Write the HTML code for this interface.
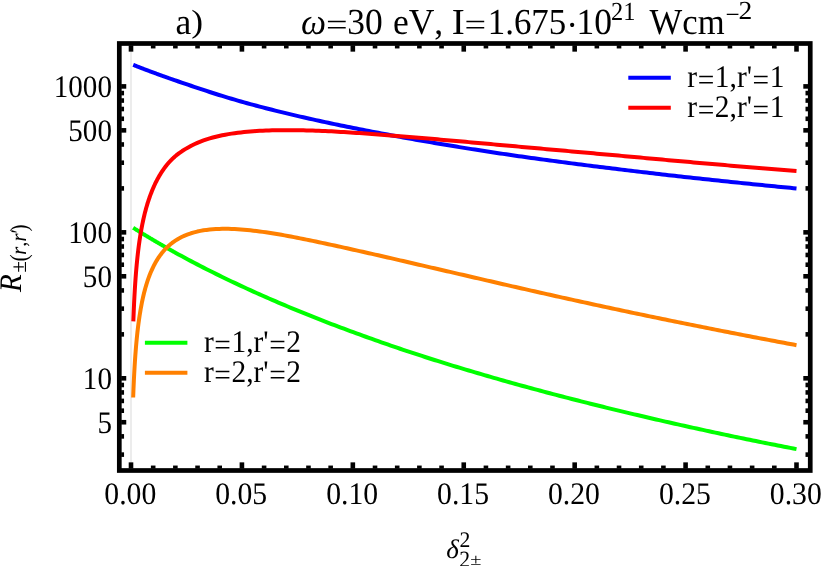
<!DOCTYPE html>
<html><head><meta charset="utf-8"><title>plot</title>
<style>
html,body{margin:0;padding:0;background:#fff;}
body{width:822px;height:566px;overflow:hidden;font-family:"Liberation Serif",serif;}
svg{display:block;will-change:transform;}
text{font-family:"Liberation Serif",serif;fill:#000;text-rendering:geometricPrecision;font-kerning:none;}
.i{font-style:italic;}
</style></head><body>
<svg width="822" height="566" viewBox="0 0 822 566">
<rect x="0" y="0" width="822" height="566" fill="#fff"/>
<line x1="131" y1="45.9" x2="131" y2="468.1" stroke="#e8e8e8" stroke-width="1.6"/>
<g fill="none" stroke-width="4.0" stroke-linejoin="round">
<path stroke="#00ff00" d="M133.17 227.76 L133.52 227.99 L133.88 228.21 L134.23 228.43 L134.59 228.66 L134.94 228.88 L135.30 229.10 L135.65 229.32 L136.01 229.54 L136.36 229.76 L136.72 229.99 L137.07 230.21 L137.42 230.43 L137.78 230.65 L138.13 230.87 L138.49 231.09 L138.84 231.31 L139.20 231.53 L139.55 231.75 L139.91 231.96 L140.26 232.18 L140.62 232.40 L140.97 232.62 L141.33 232.84 L141.68 233.06 L142.03 233.27 L142.39 233.49 L142.74 233.71 L143.10 233.92 L143.45 234.14 L143.81 234.36 L144.16 234.57 L144.52 234.79 L144.87 235.00 L145.23 235.22 L145.58 235.43 L145.94 235.65 L146.29 235.86 L146.64 236.08 L147.00 236.29 L147.35 236.50 L147.71 236.72 L148.06 236.93 L148.42 237.14 L148.77 237.36 L149.13 237.57 L149.48 237.78 L149.84 237.99 L150.19 238.20 L150.54 238.42 L150.90 238.63 L151.25 238.84 L151.61 239.05 L151.96 239.26 L152.32 239.47 L152.67 239.68 L153.03 239.89 L153.38 240.10 L153.74 240.31 L154.09 240.52 L154.45 240.73 L154.80 240.94 L155.15 241.14 L155.51 241.35 L155.86 241.56 L156.22 241.77 L156.57 241.98 L156.93 242.18 L157.28 242.39 L157.64 242.60 L157.99 242.80 L158.35 243.01 L158.70 243.22 L159.06 243.42 L159.41 243.63 L159.76 243.84 L160.12 244.04 L160.47 244.25 L160.83 244.45 L161.18 244.66 L161.54 244.86 L161.89 245.06 L162.25 245.27 L162.60 245.47 L162.96 245.68 L163.31 245.88 L163.66 246.08 L164.02 246.28 L164.37 246.49 L164.73 246.69 L165.08 246.89 L165.44 247.09 L165.79 247.30 L166.15 247.50 L166.50 247.70 L166.86 247.90 L167.21 248.10 L167.57 248.30 L167.92 248.50 L168.27 248.70 L168.63 248.90 L168.98 249.10 L169.34 249.30 L169.69 249.50 L170.05 249.70 L170.40 249.90 L170.76 250.10 L171.11 250.30 L171.47 250.50 L171.82 250.70 L172.18 250.89 L172.53 251.09 L172.88 251.29 L173.24 251.49 L173.59 251.68 L173.95 251.88 L174.30 252.08 L174.66 252.27 L175.01 252.47 L175.37 252.67 L178.49 254.39 L181.61 256.09 L184.73 257.78 L187.85 259.45 L190.97 261.11 L194.09 262.75 L197.22 264.38 L200.34 266.00 L203.46 267.60 L206.58 269.19 L209.70 270.76 L212.82 272.33 L215.94 273.88 L219.06 275.41 L222.19 276.94 L225.31 278.45 L228.43 279.95 L231.55 281.44 L234.67 282.92 L237.79 284.39 L240.91 285.85 L244.03 287.29 L247.16 288.73 L250.28 290.16 L253.40 291.57 L256.52 292.98 L259.64 294.37 L262.76 295.76 L265.88 297.14 L269.00 298.50 L272.13 299.86 L275.25 301.21 L278.37 302.55 L281.49 303.88 L284.61 305.20 L287.73 306.51 L290.85 307.82 L293.98 309.11 L297.10 310.40 L300.22 311.68 L303.34 312.95 L306.46 314.21 L309.58 315.46 L312.70 316.70 L315.82 317.94 L318.95 319.17 L322.07 320.39 L325.19 321.60 L328.31 322.81 L331.43 324.01 L334.55 325.20 L337.67 326.38 L340.79 327.56 L343.92 328.73 L347.04 329.90 L350.16 331.06 L353.28 332.21 L356.40 333.35 L359.52 334.49 L362.64 335.63 L365.76 336.75 L368.89 337.87 L372.01 338.99 L375.13 340.10 L378.25 341.20 L381.37 342.29 L384.49 343.38 L387.61 344.46 L390.73 345.54 L393.86 346.61 L396.98 347.68 L400.10 348.73 L403.22 349.79 L406.34 350.83 L409.46 351.87 L412.58 352.91 L415.70 353.93 L418.83 354.96 L421.95 355.97 L425.07 356.98 L428.19 357.98 L431.31 358.98 L434.43 359.97 L437.55 360.96 L440.67 361.94 L443.80 362.91 L446.92 363.88 L450.04 364.84 L453.16 365.80 L456.28 366.75 L459.40 367.70 L462.52 368.64 L465.65 369.58 L468.77 370.51 L471.89 371.44 L475.01 372.36 L478.13 373.28 L481.25 374.19 L484.37 375.10 L487.49 376.01 L490.62 376.91 L493.74 377.81 L496.86 378.70 L499.98 379.59 L503.10 380.48 L506.22 381.36 L509.34 382.23 L512.46 383.10 L515.59 383.97 L518.71 384.84 L521.83 385.70 L524.95 386.55 L528.07 387.41 L531.19 388.26 L534.31 389.10 L537.43 389.94 L540.56 390.78 L543.68 391.62 L546.80 392.45 L549.92 393.27 L553.04 394.10 L556.16 394.92 L559.28 395.73 L562.40 396.54 L565.53 397.35 L568.65 398.16 L571.77 398.96 L574.89 399.76 L578.01 400.56 L581.13 401.35 L584.25 402.14 L587.37 402.92 L590.50 403.71 L593.62 404.48 L596.74 405.26 L599.86 406.03 L602.98 406.80 L606.10 407.57 L609.22 408.33 L612.34 409.09 L615.47 409.85 L618.59 410.61 L621.71 411.36 L624.83 412.11 L627.95 412.85 L631.07 413.59 L634.19 414.33 L637.32 415.07 L640.44 415.80 L643.56 416.54 L646.68 417.26 L649.80 417.99 L652.92 418.71 L656.04 419.43 L659.16 420.15 L662.29 420.86 L665.41 421.58 L668.53 422.29 L671.65 422.99 L674.77 423.70 L677.89 424.40 L681.01 425.10 L684.13 425.79 L687.26 426.49 L690.38 427.18 L693.50 427.87 L696.62 428.55 L699.74 429.24 L702.86 429.92 L705.98 430.60 L709.10 431.27 L712.23 431.95 L715.35 432.62 L718.47 433.29 L721.59 433.95 L724.71 434.62 L727.83 435.28 L730.95 435.93 L734.07 436.59 L737.20 437.24 L740.32 437.88 L743.44 438.53 L746.56 439.17 L749.68 439.81 L752.80 440.45 L755.92 441.08 L759.04 441.71 L762.17 442.34 L765.29 442.96 L768.41 443.59 L771.53 444.21 L774.65 444.83 L777.77 445.44 L780.89 446.06 L784.01 446.67 L787.14 447.28 L790.26 447.89 L793.38 448.50 L796.50 449.10"/>
<path stroke="#ff8000" d="M133.17 397.47 L133.52 388.19 L133.88 380.16 L134.23 373.10 L134.59 366.82 L134.94 361.15 L135.30 356.00 L135.65 351.28 L136.01 346.93 L136.36 342.89 L136.72 339.14 L137.07 335.63 L137.42 332.33 L137.78 329.23 L138.13 326.30 L138.49 323.53 L138.84 320.90 L139.20 318.40 L139.55 316.02 L139.91 313.75 L140.26 311.58 L140.62 309.50 L140.97 307.50 L141.33 305.59 L141.68 303.75 L142.03 301.98 L142.39 300.27 L142.74 298.63 L143.10 297.04 L143.45 295.51 L143.81 294.03 L144.16 292.60 L144.52 291.21 L144.87 289.87 L145.23 288.56 L145.58 287.30 L145.94 286.07 L146.29 284.88 L146.64 283.72 L147.00 282.60 L147.35 281.51 L147.71 280.44 L148.06 279.40 L148.42 278.40 L148.77 277.41 L149.13 276.45 L149.48 275.52 L149.84 274.61 L150.19 273.72 L150.54 272.85 L150.90 272.00 L151.25 271.18 L151.61 270.37 L151.96 269.58 L152.32 268.81 L152.67 268.05 L153.03 267.31 L153.38 266.59 L153.74 265.88 L154.09 265.19 L154.45 264.52 L154.80 263.85 L155.15 263.20 L155.51 262.57 L155.86 261.95 L156.22 261.34 L156.57 260.74 L156.93 260.15 L157.28 259.58 L157.64 259.02 L157.99 258.46 L158.35 257.92 L158.70 257.39 L159.06 256.87 L159.41 256.36 L159.76 255.86 L160.12 255.37 L160.47 254.88 L160.83 254.41 L161.18 253.95 L161.54 253.49 L161.89 253.04 L162.25 252.60 L162.60 252.17 L162.96 251.74 L163.31 251.32 L163.66 250.91 L164.02 250.51 L164.37 250.11 L164.73 249.73 L165.08 249.34 L165.44 248.97 L165.79 248.60 L166.15 248.24 L166.50 247.88 L166.86 247.53 L167.21 247.18 L167.57 246.84 L167.92 246.51 L168.27 246.18 L168.63 245.86 L168.98 245.54 L169.34 245.23 L169.69 244.92 L170.05 244.62 L170.40 244.33 L170.76 244.03 L171.11 243.75 L171.47 243.47 L171.82 243.19 L172.18 242.91 L172.53 242.65 L172.88 242.38 L173.24 242.12 L173.59 241.87 L173.95 241.61 L174.30 241.37 L174.66 241.12 L175.01 240.88 L175.37 240.65 L178.49 238.72 L181.61 237.06 L184.73 235.61 L187.85 234.36 L190.97 233.28 L194.09 232.36 L197.22 231.57 L200.34 230.90 L203.46 230.34 L206.58 229.89 L209.70 229.52 L212.82 229.24 L215.94 229.03 L219.06 228.89 L222.19 228.82 L225.31 228.80 L228.43 228.84 L231.55 228.92 L234.67 229.06 L237.79 229.23 L240.91 229.45 L244.03 229.70 L247.16 229.99 L250.28 230.31 L253.40 230.66 L256.52 231.04 L259.64 231.44 L262.76 231.87 L265.88 232.31 L269.00 232.78 L272.13 233.27 L275.25 233.78 L278.37 234.30 L281.49 234.84 L284.61 235.40 L287.73 235.96 L290.85 236.54 L293.98 237.14 L297.10 237.74 L300.22 238.35 L303.34 238.97 L306.46 239.60 L309.58 240.24 L312.70 240.89 L315.82 241.54 L318.95 242.19 L322.07 242.86 L325.19 243.52 L328.31 244.20 L331.43 244.87 L334.55 245.55 L337.67 246.23 L340.79 246.92 L343.92 247.61 L347.04 248.30 L350.16 248.99 L353.28 249.68 L356.40 250.38 L359.52 251.08 L362.64 251.78 L365.76 252.48 L368.89 253.18 L372.01 253.89 L375.13 254.60 L378.25 255.31 L381.37 256.02 L384.49 256.73 L387.61 257.45 L390.73 258.16 L393.86 258.88 L396.98 259.60 L400.10 260.33 L403.22 261.05 L406.34 261.77 L409.46 262.50 L412.58 263.22 L415.70 263.95 L418.83 264.68 L421.95 265.40 L425.07 266.13 L428.19 266.85 L431.31 267.58 L434.43 268.30 L437.55 269.03 L440.67 269.75 L443.80 270.47 L446.92 271.20 L450.04 271.92 L453.16 272.65 L456.28 273.37 L459.40 274.09 L462.52 274.81 L465.65 275.54 L468.77 276.26 L471.89 276.98 L475.01 277.70 L478.13 278.42 L481.25 279.14 L484.37 279.86 L487.49 280.58 L490.62 281.30 L493.74 282.02 L496.86 282.74 L499.98 283.46 L503.10 284.18 L506.22 284.89 L509.34 285.61 L512.46 286.33 L515.59 287.04 L518.71 287.75 L521.83 288.46 L524.95 289.17 L528.07 289.88 L531.19 290.59 L534.31 291.29 L537.43 292.00 L540.56 292.70 L543.68 293.40 L546.80 294.10 L549.92 294.80 L553.04 295.50 L556.16 296.20 L559.28 296.89 L562.40 297.58 L565.53 298.27 L568.65 298.96 L571.77 299.65 L574.89 300.34 L578.01 301.02 L581.13 301.71 L584.25 302.39 L587.37 303.07 L590.50 303.75 L593.62 304.43 L596.74 305.10 L599.86 305.78 L602.98 306.45 L606.10 307.12 L609.22 307.79 L612.34 308.46 L615.47 309.12 L618.59 309.79 L621.71 310.45 L624.83 311.12 L627.95 311.78 L631.07 312.43 L634.19 313.09 L637.32 313.75 L640.44 314.40 L643.56 315.05 L646.68 315.70 L649.80 316.35 L652.92 317.00 L656.04 317.65 L659.16 318.29 L662.29 318.94 L665.41 319.58 L668.53 320.22 L671.65 320.86 L674.77 321.49 L677.89 322.13 L681.01 322.76 L684.13 323.39 L687.26 324.02 L690.38 324.65 L693.50 325.28 L696.62 325.91 L699.74 326.53 L702.86 327.15 L705.98 327.78 L709.10 328.40 L712.23 329.01 L715.35 329.63 L718.47 330.25 L721.59 330.86 L724.71 331.47 L727.83 332.08 L730.95 332.69 L734.07 333.30 L737.20 333.91 L740.32 334.51 L743.44 335.12 L746.56 335.72 L749.68 336.32 L752.80 336.92 L755.92 337.52 L759.04 338.11 L762.17 338.71 L765.29 339.30 L768.41 339.89 L771.53 340.48 L774.65 341.07 L777.77 341.66 L780.89 342.25 L784.01 342.83 L787.14 343.41 L790.26 344.00 L793.38 344.58 L796.50 345.16"/>
<path stroke="#0000ff" d="M133.17 64.80 L133.52 64.94 L133.88 65.09 L134.23 65.23 L134.59 65.38 L134.94 65.52 L135.30 65.66 L135.65 65.81 L136.01 65.95 L136.36 66.09 L136.72 66.23 L137.07 66.38 L137.42 66.52 L137.78 66.66 L138.13 66.80 L138.49 66.94 L138.84 67.08 L139.20 67.22 L139.55 67.36 L139.91 67.49 L140.26 67.63 L140.62 67.77 L140.97 67.91 L141.33 68.05 L141.68 68.18 L142.03 68.32 L142.39 68.46 L142.74 68.59 L143.10 68.73 L143.45 68.86 L143.81 69.00 L144.16 69.13 L144.52 69.27 L144.87 69.40 L145.23 69.54 L145.58 69.67 L145.94 69.81 L146.29 69.94 L146.64 70.08 L147.00 70.21 L147.35 70.34 L147.71 70.48 L148.06 70.61 L148.42 70.74 L148.77 70.87 L149.13 71.01 L149.48 71.14 L149.84 71.27 L150.19 71.40 L150.54 71.53 L150.90 71.67 L151.25 71.80 L151.61 71.93 L151.96 72.06 L152.32 72.19 L152.67 72.32 L153.03 72.45 L153.38 72.58 L153.74 72.71 L154.09 72.84 L154.45 72.97 L154.80 73.10 L155.15 73.23 L155.51 73.36 L155.86 73.49 L156.22 73.62 L156.57 73.75 L156.93 73.88 L157.28 74.01 L157.64 74.14 L157.99 74.27 L158.35 74.39 L158.70 74.52 L159.06 74.65 L159.41 74.78 L159.76 74.91 L160.12 75.04 L160.47 75.16 L160.83 75.29 L161.18 75.42 L161.54 75.55 L161.89 75.67 L162.25 75.80 L162.60 75.93 L162.96 76.05 L163.31 76.18 L163.66 76.31 L164.02 76.43 L164.37 76.56 L164.73 76.69 L165.08 76.81 L165.44 76.94 L165.79 77.06 L166.15 77.19 L166.50 77.31 L166.86 77.44 L167.21 77.56 L167.57 77.69 L167.92 77.81 L168.27 77.94 L168.63 78.06 L168.98 78.19 L169.34 78.31 L169.69 78.44 L170.05 78.56 L170.40 78.69 L170.76 78.81 L171.11 78.94 L171.47 79.06 L171.82 79.18 L172.18 79.31 L172.53 79.43 L172.88 79.55 L173.24 79.68 L173.59 79.80 L173.95 79.92 L174.30 80.05 L174.66 80.17 L175.01 80.29 L175.37 80.42 L178.49 81.49 L181.61 82.57 L184.73 83.64 L187.85 84.70 L190.97 85.76 L194.09 86.82 L197.22 87.87 L200.34 88.91 L203.46 89.95 L206.58 90.97 L209.70 91.99 L212.82 93.00 L215.94 94.00 L219.06 94.98 L222.19 95.95 L225.31 96.90 L228.43 97.84 L231.55 98.76 L234.67 99.67 L237.79 100.57 L240.91 101.46 L244.03 102.34 L247.16 103.21 L250.28 104.06 L253.40 104.91 L256.52 105.75 L259.64 106.58 L262.76 107.41 L265.88 108.22 L269.00 109.02 L272.13 109.81 L275.25 110.60 L278.37 111.37 L281.49 112.14 L284.61 112.90 L287.73 113.65 L290.85 114.39 L293.98 115.13 L297.10 115.86 L300.22 116.58 L303.34 117.30 L306.46 118.00 L309.58 118.71 L312.70 119.40 L315.82 120.09 L318.95 120.78 L322.07 121.46 L325.19 122.13 L328.31 122.80 L331.43 123.46 L334.55 124.12 L337.67 124.77 L340.79 125.42 L343.92 126.06 L347.04 126.69 L350.16 127.33 L353.28 127.95 L356.40 128.58 L359.52 129.19 L362.64 129.81 L365.76 130.42 L368.89 131.02 L372.01 131.63 L375.13 132.22 L378.25 132.82 L381.37 133.41 L384.49 133.99 L387.61 134.58 L390.73 135.16 L393.86 135.73 L396.98 136.31 L400.10 136.88 L403.22 137.44 L406.34 138.01 L409.46 138.57 L412.58 139.12 L415.70 139.68 L418.83 140.23 L421.95 140.78 L425.07 141.32 L428.19 141.86 L431.31 142.40 L434.43 142.94 L437.55 143.47 L440.67 144.00 L443.80 144.52 L446.92 145.04 L450.04 145.56 L453.16 146.08 L456.28 146.59 L459.40 147.10 L462.52 147.61 L465.65 148.11 L468.77 148.61 L471.89 149.11 L475.01 149.60 L478.13 150.09 L481.25 150.58 L484.37 151.06 L487.49 151.54 L490.62 152.02 L493.74 152.49 L496.86 152.96 L499.98 153.43 L503.10 153.89 L506.22 154.35 L509.34 154.81 L512.46 155.26 L515.59 155.71 L518.71 156.15 L521.83 156.60 L524.95 157.04 L528.07 157.47 L531.19 157.91 L534.31 158.34 L537.43 158.77 L540.56 159.20 L543.68 159.63 L546.80 160.05 L549.92 160.47 L553.04 160.89 L556.16 161.31 L559.28 161.72 L562.40 162.13 L565.53 162.55 L568.65 162.95 L571.77 163.36 L574.89 163.77 L578.01 164.17 L581.13 164.57 L584.25 164.97 L587.37 165.36 L590.50 165.76 L593.62 166.15 L596.74 166.54 L599.86 166.93 L602.98 167.32 L606.10 167.71 L609.22 168.09 L612.34 168.48 L615.47 168.86 L618.59 169.24 L621.71 169.62 L624.83 170.00 L627.95 170.38 L631.07 170.75 L634.19 171.12 L637.32 171.50 L640.44 171.87 L643.56 172.24 L646.68 172.61 L649.80 172.97 L652.92 173.34 L656.04 173.70 L659.16 174.06 L662.29 174.42 L665.41 174.78 L668.53 175.14 L671.65 175.49 L674.77 175.84 L677.89 176.20 L681.01 176.55 L684.13 176.89 L687.26 177.24 L690.38 177.58 L693.50 177.93 L696.62 178.27 L699.74 178.61 L702.86 178.94 L705.98 179.28 L709.10 179.61 L712.23 179.95 L715.35 180.28 L718.47 180.61 L721.59 180.94 L724.71 181.26 L727.83 181.59 L730.95 181.91 L734.07 182.24 L737.20 182.56 L740.32 182.88 L743.44 183.20 L746.56 183.52 L749.68 183.84 L752.80 184.15 L755.92 184.47 L759.04 184.78 L762.17 185.09 L765.29 185.40 L768.41 185.71 L771.53 186.02 L774.65 186.33 L777.77 186.64 L780.89 186.94 L784.01 187.25 L787.14 187.55 L790.26 187.85 L793.38 188.15 L796.50 188.45"/>
<path stroke="#ff0000" d="M133.33 321.38 L133.70 311.81 L134.07 303.53 L134.44 296.25 L134.81 289.76 L135.18 283.90 L135.55 278.57 L135.92 273.69 L136.30 269.18 L136.67 265.00 L137.05 261.10 L137.42 257.45 L137.80 254.03 L138.18 250.80 L138.55 247.75 L138.93 244.86 L139.31 242.12 L139.69 239.50 L140.07 237.01 L140.45 234.64 L140.83 232.36 L141.21 230.18 L141.59 228.09 L141.98 226.07 L142.36 224.14 L142.74 222.28 L143.12 220.48 L143.51 218.75 L143.89 217.07 L144.27 215.45 L144.65 213.88 L145.04 212.37 L145.42 210.90 L145.80 209.47 L146.18 208.09 L146.57 206.74 L146.95 205.44 L147.33 204.17 L147.71 202.93 L148.09 201.73 L148.47 200.56 L148.85 199.42 L149.23 198.31 L149.60 197.23 L149.98 196.18 L150.36 195.15 L150.73 194.14 L151.11 193.16 L151.48 192.20 L151.85 191.27 L152.23 190.35 L152.60 189.46 L152.97 188.58 L153.34 187.73 L153.71 186.89 L154.07 186.07 L154.44 185.27 L154.81 184.48 L155.17 183.72 L155.54 182.96 L155.90 182.23 L156.26 181.50 L156.62 180.79 L156.98 180.10 L157.34 179.42 L157.70 178.75 L158.06 178.09 L158.42 177.45 L158.77 176.82 L159.13 176.20 L159.48 175.59 L159.84 175.00 L160.19 174.41 L160.54 173.84 L160.89 173.27 L161.24 172.72 L161.59 172.17 L161.94 171.64 L162.29 171.11 L162.64 170.60 L162.98 170.09 L163.33 169.59 L163.67 169.10 L164.02 168.61 L164.36 168.14 L164.71 167.67 L165.05 167.21 L165.39 166.76 L165.73 166.32 L166.07 165.88 L166.42 165.45 L166.76 165.03 L167.10 164.61 L167.44 164.20 L167.78 163.80 L168.12 163.40 L168.46 163.01 L168.79 162.63 L169.13 162.25 L169.47 161.88 L169.81 161.51 L170.15 161.15 L170.49 160.79 L170.82 160.44 L171.16 160.09 L171.50 159.75 L171.84 159.42 L172.17 159.08 L172.51 158.76 L172.85 158.44 L173.19 158.12 L173.52 157.81 L173.86 157.50 L174.20 157.19 L174.54 156.89 L174.87 156.60 L175.21 156.30 L175.55 156.02 L175.89 155.73 L176.22 155.45 L179.20 153.13 L182.19 151.04 L185.18 149.14 L188.19 147.40 L191.22 145.78 L194.26 144.28 L197.32 142.89 L200.39 141.62 L203.49 140.45 L206.59 139.38 L209.71 138.41 L212.82 137.53 L215.94 136.72 L219.06 135.98 L222.19 135.31 L225.31 134.70 L228.43 134.15 L231.55 133.64 L234.67 133.19 L237.79 132.77 L240.91 132.40 L244.03 132.06 L247.16 131.76 L250.28 131.49 L253.40 131.25 L256.52 131.04 L259.64 130.85 L262.76 130.69 L265.88 130.56 L269.00 130.44 L272.13 130.35 L275.25 130.28 L278.37 130.22 L281.49 130.19 L284.61 130.17 L287.73 130.16 L290.85 130.17 L293.98 130.19 L297.10 130.22 L300.22 130.26 L303.34 130.32 L306.46 130.39 L309.58 130.47 L312.70 130.57 L315.82 130.67 L318.95 130.79 L322.07 130.92 L325.19 131.06 L328.31 131.21 L331.43 131.37 L334.55 131.54 L337.67 131.72 L340.79 131.90 L343.92 132.09 L347.04 132.29 L350.16 132.49 L353.28 132.69 L356.40 132.90 L359.52 133.12 L362.64 133.33 L365.76 133.55 L368.89 133.78 L372.01 134.01 L375.13 134.24 L378.25 134.47 L381.37 134.71 L384.49 134.95 L387.61 135.20 L390.73 135.44 L393.86 135.69 L396.98 135.94 L400.10 136.19 L403.22 136.45 L406.34 136.70 L409.46 136.96 L412.58 137.22 L415.70 137.49 L418.83 137.75 L421.95 138.02 L425.07 138.28 L428.19 138.55 L431.31 138.82 L434.43 139.09 L437.55 139.36 L440.67 139.64 L443.80 139.91 L446.92 140.18 L450.04 140.46 L453.16 140.74 L456.28 141.01 L459.40 141.29 L462.52 141.57 L465.65 141.85 L468.77 142.13 L471.89 142.41 L475.01 142.69 L478.13 142.97 L481.25 143.25 L484.37 143.53 L487.49 143.81 L490.62 144.09 L493.74 144.38 L496.86 144.66 L499.98 144.94 L503.10 145.22 L506.22 145.50 L509.34 145.79 L512.46 146.07 L515.59 146.35 L518.71 146.63 L521.83 146.92 L524.95 147.20 L528.07 147.48 L531.19 147.76 L534.31 148.04 L537.43 148.32 L540.56 148.60 L543.68 148.88 L546.80 149.17 L549.92 149.45 L553.04 149.73 L556.16 150.01 L559.28 150.29 L562.40 150.57 L565.53 150.85 L568.65 151.13 L571.77 151.41 L574.89 151.68 L578.01 151.96 L581.13 152.24 L584.25 152.52 L587.37 152.80 L590.50 153.08 L593.62 153.36 L596.74 153.64 L599.86 153.91 L602.98 154.19 L606.10 154.47 L609.22 154.75 L612.34 155.03 L615.47 155.32 L618.59 155.60 L621.71 155.88 L624.83 156.17 L627.95 156.45 L631.07 156.73 L634.19 157.02 L637.32 157.30 L640.44 157.59 L643.56 157.88 L646.68 158.16 L649.80 158.45 L652.92 158.73 L656.04 159.02 L659.16 159.30 L662.29 159.59 L665.41 159.87 L668.53 160.15 L671.65 160.44 L674.77 160.72 L677.89 161.00 L681.01 161.28 L684.13 161.56 L687.26 161.84 L690.38 162.11 L693.50 162.39 L696.62 162.67 L699.74 162.94 L702.86 163.21 L705.98 163.49 L709.10 163.76 L712.23 164.03 L715.35 164.30 L718.47 164.57 L721.59 164.84 L724.71 165.11 L727.83 165.37 L730.95 165.64 L734.07 165.91 L737.20 166.17 L740.32 166.44 L743.44 166.70 L746.56 166.97 L749.68 167.23 L752.80 167.49 L755.92 167.76 L759.04 168.02 L762.17 168.28 L765.29 168.54 L768.41 168.80 L771.53 169.06 L774.65 169.32 L777.77 169.58 L780.89 169.83 L784.01 170.09 L787.14 170.34 L790.26 170.60 L793.38 170.85 L796.50 171.10"/>
</g>
<g stroke="#000" stroke-width="4.6">
<line x1="131.00" y1="468.65" x2="131.00" y2="462.35"/>
<line x1="131.00" y1="45.35" x2="131.00" y2="51.65"/>
<line x1="153.18" y1="468.65" x2="153.18" y2="465.55"/>
<line x1="153.18" y1="45.35" x2="153.18" y2="48.45"/>
<line x1="175.37" y1="468.65" x2="175.37" y2="465.55"/>
<line x1="175.37" y1="45.35" x2="175.37" y2="48.45"/>
<line x1="197.55" y1="468.65" x2="197.55" y2="465.55"/>
<line x1="197.55" y1="45.35" x2="197.55" y2="48.45"/>
<line x1="219.73" y1="468.65" x2="219.73" y2="465.55"/>
<line x1="219.73" y1="45.35" x2="219.73" y2="48.45"/>
<line x1="241.92" y1="468.65" x2="241.92" y2="462.35"/>
<line x1="241.92" y1="45.35" x2="241.92" y2="51.65"/>
<line x1="264.10" y1="468.65" x2="264.10" y2="465.55"/>
<line x1="264.10" y1="45.35" x2="264.10" y2="48.45"/>
<line x1="286.28" y1="468.65" x2="286.28" y2="465.55"/>
<line x1="286.28" y1="45.35" x2="286.28" y2="48.45"/>
<line x1="308.47" y1="468.65" x2="308.47" y2="465.55"/>
<line x1="308.47" y1="45.35" x2="308.47" y2="48.45"/>
<line x1="330.65" y1="468.65" x2="330.65" y2="465.55"/>
<line x1="330.65" y1="45.35" x2="330.65" y2="48.45"/>
<line x1="352.83" y1="468.65" x2="352.83" y2="462.35"/>
<line x1="352.83" y1="45.35" x2="352.83" y2="51.65"/>
<line x1="375.02" y1="468.65" x2="375.02" y2="465.55"/>
<line x1="375.02" y1="45.35" x2="375.02" y2="48.45"/>
<line x1="397.20" y1="468.65" x2="397.20" y2="465.55"/>
<line x1="397.20" y1="45.35" x2="397.20" y2="48.45"/>
<line x1="419.38" y1="468.65" x2="419.38" y2="465.55"/>
<line x1="419.38" y1="45.35" x2="419.38" y2="48.45"/>
<line x1="441.57" y1="468.65" x2="441.57" y2="465.55"/>
<line x1="441.57" y1="45.35" x2="441.57" y2="48.45"/>
<line x1="463.75" y1="468.65" x2="463.75" y2="462.35"/>
<line x1="463.75" y1="45.35" x2="463.75" y2="51.65"/>
<line x1="485.93" y1="468.65" x2="485.93" y2="465.55"/>
<line x1="485.93" y1="45.35" x2="485.93" y2="48.45"/>
<line x1="508.12" y1="468.65" x2="508.12" y2="465.55"/>
<line x1="508.12" y1="45.35" x2="508.12" y2="48.45"/>
<line x1="530.30" y1="468.65" x2="530.30" y2="465.55"/>
<line x1="530.30" y1="45.35" x2="530.30" y2="48.45"/>
<line x1="552.48" y1="468.65" x2="552.48" y2="465.55"/>
<line x1="552.48" y1="45.35" x2="552.48" y2="48.45"/>
<line x1="574.67" y1="468.65" x2="574.67" y2="462.35"/>
<line x1="574.67" y1="45.35" x2="574.67" y2="51.65"/>
<line x1="596.85" y1="468.65" x2="596.85" y2="465.55"/>
<line x1="596.85" y1="45.35" x2="596.85" y2="48.45"/>
<line x1="619.03" y1="468.65" x2="619.03" y2="465.55"/>
<line x1="619.03" y1="45.35" x2="619.03" y2="48.45"/>
<line x1="641.22" y1="468.65" x2="641.22" y2="465.55"/>
<line x1="641.22" y1="45.35" x2="641.22" y2="48.45"/>
<line x1="663.40" y1="468.65" x2="663.40" y2="465.55"/>
<line x1="663.40" y1="45.35" x2="663.40" y2="48.45"/>
<line x1="685.58" y1="468.65" x2="685.58" y2="462.35"/>
<line x1="685.58" y1="45.35" x2="685.58" y2="51.65"/>
<line x1="707.77" y1="468.65" x2="707.77" y2="465.55"/>
<line x1="707.77" y1="45.35" x2="707.77" y2="48.45"/>
<line x1="729.95" y1="468.65" x2="729.95" y2="465.55"/>
<line x1="729.95" y1="45.35" x2="729.95" y2="48.45"/>
<line x1="752.13" y1="468.65" x2="752.13" y2="465.55"/>
<line x1="752.13" y1="45.35" x2="752.13" y2="48.45"/>
<line x1="774.32" y1="468.65" x2="774.32" y2="465.55"/>
<line x1="774.32" y1="45.35" x2="774.32" y2="48.45"/>
<line x1="796.50" y1="468.65" x2="796.50" y2="462.35"/>
<line x1="796.50" y1="45.35" x2="796.50" y2="51.65"/>
<line x1="121.15" y1="454.61" x2="124.05" y2="454.61"/>
<line x1="808.40" y1="454.61" x2="805.50" y2="454.61"/>
<line x1="121.15" y1="436.38" x2="124.05" y2="436.38"/>
<line x1="808.40" y1="436.38" x2="805.50" y2="436.38"/>
<line x1="121.15" y1="422.24" x2="126.25" y2="422.24"/>
<line x1="808.40" y1="422.24" x2="803.30" y2="422.24"/>
<line x1="121.15" y1="410.68" x2="124.05" y2="410.68"/>
<line x1="808.40" y1="410.68" x2="805.50" y2="410.68"/>
<line x1="121.15" y1="400.91" x2="124.05" y2="400.91"/>
<line x1="808.40" y1="400.91" x2="805.50" y2="400.91"/>
<line x1="121.15" y1="392.44" x2="124.05" y2="392.44"/>
<line x1="808.40" y1="392.44" x2="805.50" y2="392.44"/>
<line x1="121.15" y1="384.98" x2="124.05" y2="384.98"/>
<line x1="808.40" y1="384.98" x2="805.50" y2="384.98"/>
<line x1="121.15" y1="378.30" x2="126.25" y2="378.30"/>
<line x1="808.40" y1="378.30" x2="803.30" y2="378.30"/>
<line x1="121.15" y1="334.36" x2="124.05" y2="334.36"/>
<line x1="808.40" y1="334.36" x2="805.50" y2="334.36"/>
<line x1="121.15" y1="308.66" x2="124.05" y2="308.66"/>
<line x1="808.40" y1="308.66" x2="805.50" y2="308.66"/>
<line x1="121.15" y1="290.43" x2="124.05" y2="290.43"/>
<line x1="808.40" y1="290.43" x2="805.50" y2="290.43"/>
<line x1="121.15" y1="276.29" x2="126.25" y2="276.29"/>
<line x1="808.40" y1="276.29" x2="803.30" y2="276.29"/>
<line x1="121.15" y1="264.73" x2="124.05" y2="264.73"/>
<line x1="808.40" y1="264.73" x2="805.50" y2="264.73"/>
<line x1="121.15" y1="254.96" x2="124.05" y2="254.96"/>
<line x1="808.40" y1="254.96" x2="805.50" y2="254.96"/>
<line x1="121.15" y1="246.49" x2="124.05" y2="246.49"/>
<line x1="808.40" y1="246.49" x2="805.50" y2="246.49"/>
<line x1="121.15" y1="239.03" x2="124.05" y2="239.03"/>
<line x1="808.40" y1="239.03" x2="805.50" y2="239.03"/>
<line x1="121.15" y1="232.35" x2="126.25" y2="232.35"/>
<line x1="808.40" y1="232.35" x2="803.30" y2="232.35"/>
<line x1="121.15" y1="188.41" x2="124.05" y2="188.41"/>
<line x1="808.40" y1="188.41" x2="805.50" y2="188.41"/>
<line x1="121.15" y1="162.71" x2="124.05" y2="162.71"/>
<line x1="808.40" y1="162.71" x2="805.50" y2="162.71"/>
<line x1="121.15" y1="144.48" x2="124.05" y2="144.48"/>
<line x1="808.40" y1="144.48" x2="805.50" y2="144.48"/>
<line x1="121.15" y1="130.34" x2="126.25" y2="130.34"/>
<line x1="808.40" y1="130.34" x2="803.30" y2="130.34"/>
<line x1="121.15" y1="118.78" x2="124.05" y2="118.78"/>
<line x1="808.40" y1="118.78" x2="805.50" y2="118.78"/>
<line x1="121.15" y1="109.01" x2="124.05" y2="109.01"/>
<line x1="808.40" y1="109.01" x2="805.50" y2="109.01"/>
<line x1="121.15" y1="100.54" x2="124.05" y2="100.54"/>
<line x1="808.40" y1="100.54" x2="805.50" y2="100.54"/>
<line x1="121.15" y1="93.08" x2="124.05" y2="93.08"/>
<line x1="808.40" y1="93.08" x2="805.50" y2="93.08"/>
<line x1="121.15" y1="86.40" x2="126.25" y2="86.40"/>
<line x1="808.40" y1="86.40" x2="803.30" y2="86.40"/>
</g>
<rect x="119.30" y="43.50" width="690.95" height="427.00" fill="none" stroke="#000" stroke-width="4.7"/>
<text transform="translate(111.90,97.40) scale(0.9680,1.0450)" font-size="30.00" text-anchor="end">1000</text>
<text transform="translate(111.90,141.34) scale(0.9680,1.0450)" font-size="30.00" text-anchor="end">500</text>
<text transform="translate(111.90,243.35) scale(0.9680,1.0450)" font-size="30.00" text-anchor="end">100</text>
<text transform="translate(111.90,287.29) scale(0.9680,1.0450)" font-size="30.00" text-anchor="end">50</text>
<text transform="translate(111.90,389.30) scale(0.9680,1.0450)" font-size="30.00" text-anchor="end">10</text>
<text transform="translate(111.90,433.24) scale(0.9680,1.0450)" font-size="30.00" text-anchor="end">5</text>
<text transform="translate(130.30,504.00) scale(0.9900,1.0450)" font-size="30.00" text-anchor="middle">0.00</text>
<text transform="translate(241.22,504.00) scale(0.9900,1.0450)" font-size="30.00" text-anchor="middle">0.05</text>
<text transform="translate(352.13,504.00) scale(0.9900,1.0450)" font-size="30.00" text-anchor="middle">0.10</text>
<text transform="translate(463.05,504.00) scale(0.9900,1.0450)" font-size="30.00" text-anchor="middle">0.15</text>
<text transform="translate(573.97,504.00) scale(0.9900,1.0450)" font-size="30.00" text-anchor="middle">0.20</text>
<text transform="translate(684.88,504.00) scale(0.9900,1.0450)" font-size="30.00" text-anchor="middle">0.25</text>
<text transform="translate(795.80,504.00) scale(0.9900,1.0450)" font-size="30.00" text-anchor="middle">0.30</text>
<line x1="628.3" y1="77.8" x2="670.8" y2="77.8" stroke="#0000ff" stroke-width="4.0"/>
<text transform="translate(687.30,86.90) scale(0.9800,1.0450)" font-size="30.00">r<tspan dy="2.60" dx="0.60">=</tspan><tspan dy="-2.60" dx="0.60">1</tspan>,r'<tspan dy="2.60" dx="0.60">=</tspan><tspan dy="-2.60" dx="0.60">1</tspan></text>
<line x1="628.3" y1="107.8" x2="670.8" y2="107.8" stroke="#ff0000" stroke-width="4.0"/>
<text transform="translate(687.30,116.90) scale(0.9800,1.0450)" font-size="30.00">r<tspan dy="2.60" dx="0.60">=</tspan><tspan dy="-2.60" dx="0.60">2</tspan>,r'<tspan dy="2.60" dx="0.60">=</tspan><tspan dy="-2.60" dx="0.60">1</tspan></text>
<line x1="144.9" y1="342.8" x2="187.4" y2="342.8" stroke="#00ff00" stroke-width="4.0"/>
<text transform="translate(203.90,351.90) scale(0.9800,1.0450)" font-size="30.00">r<tspan dy="2.60" dx="0.60">=</tspan><tspan dy="-2.60" dx="0.60">1</tspan>,r'<tspan dy="2.60" dx="0.60">=</tspan><tspan dy="-2.60" dx="0.60">2</tspan></text>
<line x1="144.9" y1="372.8" x2="187.4" y2="372.8" stroke="#ff8000" stroke-width="4.0"/>
<text transform="translate(203.90,381.90) scale(0.9800,1.0450)" font-size="30.00">r<tspan dy="2.60" dx="0.60">=</tspan><tspan dy="-2.60" dx="0.60">2</tspan>,r'<tspan dy="2.60" dx="0.60">=</tspan><tspan dy="-2.60" dx="0.60">2</tspan></text>
<text transform="translate(175.50,33.70) scale(0.9850,1.0200)" font-size="36.00">a</text>
<text transform="translate(191.30,32.30) scale(0.9850,0.8910)" font-size="36.00">)</text>
<text transform="translate(301.00,33.70) scale(0.9850,1.0200)" font-size="36.00" class="i">ω</text>
<text transform="translate(326.00,35.20) scale(1.0638,0.8670)" font-size="36.00">=</text>
<text transform="translate(347.20,33.70) scale(0.9850,1.0200)" font-size="36.00">30</text>
<text transform="translate(392.90,33.70) scale(0.9850,1.0200)" font-size="36.00">eV,</text>
<text transform="translate(451.70,33.70) scale(1.0835,1.0200)" font-size="36.00">I</text>
<text transform="translate(464.60,35.20) scale(1.0638,0.8670)" font-size="36.00">=</text>
<text transform="translate(487.70,33.70) scale(0.9702,1.0200)" font-size="36.00">1.675</text>
<text transform="translate(566.30,36.70) scale(0.9850,1.0200)" font-size="36.00">·</text>
<text transform="translate(576.60,33.70) scale(0.9850,1.0200)" font-size="36.00">10</text>
<text transform="translate(611.00,20.10) scale(0.9554,1.0200)" font-size="25.50">21</text>
<text transform="translate(649.60,33.70) scale(0.9620,1.0200)" font-size="36.00">Wcm</text>
<text transform="translate(725.40,23.10) scale(0.9850,1.0200)" font-size="25.50">−</text>
<text transform="translate(738.60,19.10) scale(1.0800,1.0200)" font-size="25.50">2</text>
<text transform="translate(446.20,558.30) scale(0.9000,0.8950)" font-size="30.00" class="i">δ</text>
<text transform="translate(459.40,547.10) scale(1.0200,1.0450)" font-size="21.30">2</text>
<text transform="translate(459.20,567.30) scale(1.0200,1.1000)" font-size="21.30">2</text>
<text transform="translate(470.30,565.10) scale(1.0200,0.8100)" font-size="20.00">±</text>
<g transform="translate(21,292) rotate(-90)">
<text transform="translate(0.00,0.00) scale(0.9680,1.0450)" font-size="30.00" class="i">R</text>
<text transform="translate(19.50,5.30) scale(0.9680,1.0450)" font-size="21.30">±</text>
<text transform="translate(30.50,6.00) scale(1.0000,1.1650)" font-size="21.30">(</text>
<text transform="translate(37.30,5.30) scale(0.9680,1.0450)" font-size="21.30"><tspan class="i">r</tspan>,<tspan class="i">r</tspan>′</text>
<text transform="translate(60.50,6.00) scale(1.0000,1.1650)" font-size="21.30">)</text>
</g>
</svg>
</body></html>
